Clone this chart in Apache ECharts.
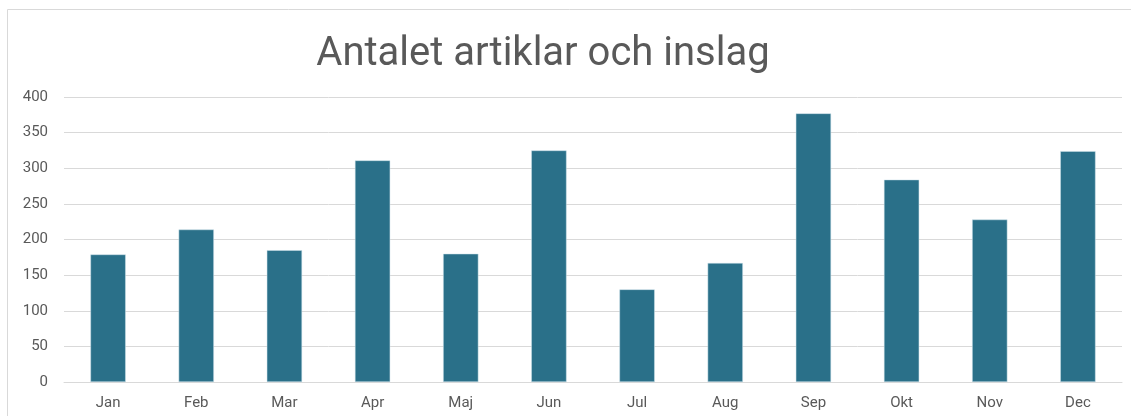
<!DOCTYPE html>
<html>
<head>
<meta charset="utf-8">
<script src="https://cdn.jsdelivr.net/npm/echarts@6/dist/echarts.min.js"></script>
<style>
    html, body { margin: 0; padding: 0; background: #fff; }
    #chart { width: 1131px; height: 416px; }
</style>
</head>
<body>
<div id="chart"></div>
<script>
const months = ['Jan', 'Feb', 'Mar', 'Apr', 'Maj', 'Jun', 'Jul', 'Aug', 'Sep', 'Okt', 'Nov', 'Dec']
const antal = [179, 214, 185, 311, 180, 325, 130, 167, 377, 284, 228, 324]
const yTicks = [0, 50, 100, 150, 200, 250, 300, 350, 400]

const fontFamily = 'Roboto, "Open Sans", sans-serif'
const myChart = echarts.init(document.getElementById('chart'), null, {renderer: 'canvas'})
const option = {
    animation: false,
    title: {
        text: 'Antalet artiklar och inslag',
        left: 538,
        top: 30,
        textAlign: 'center',
        textStyle: {
            fontFamily: fontFamily,
            fontWeight: 'normal',
            fontSize: 40,
            color: '#595959'
        }
    },
    graphic: [{
        type: 'rect',
        shape: {x: 7.5, y: 9.5, width: 1200, height: 500},
        style: {fill: 'none', stroke: '#d9d9d9', lineWidth: 1},
        silent: true
    }],
    grid: {
        left: 64,
        right: 9,
        top: 97,
        bottom: 34
    },
    xAxis: {
        type: 'category',
        data: months,
        axisTick: {show: false},
        axisLine: {lineStyle: {color: '#d9d9d9'}},
        axisLabel: {
            color: '#595959',
            fontFamily: fontFamily,
            fontSize: 15,
            margin: 14
        }
    },
    yAxis: {
        type: 'value',
        min: yTicks[0],
        max: yTicks[yTicks.length - 1],
        interval: 50,
        axisLine: {show: false},
        axisTick: {show: false},
        splitLine: {lineStyle: {color: '#d9d9d9', width: 1}},
        axisLabel: {
            color: '#595959',
            fontFamily: fontFamily,
            fontSize: 15,
            margin: 16
        }
    },
    series: [{
        type: 'bar',
        data: antal,
        barWidth: '40%',
        itemStyle: {
            color: '#2a7089',
            borderColor: '#cfe3ea',
            borderWidth: 0.5
        }
    }]
}
myChart.setOption(option)
window.addEventListener('resize', () => {
    myChart.resize()
})
</script>
</body>
</html>
